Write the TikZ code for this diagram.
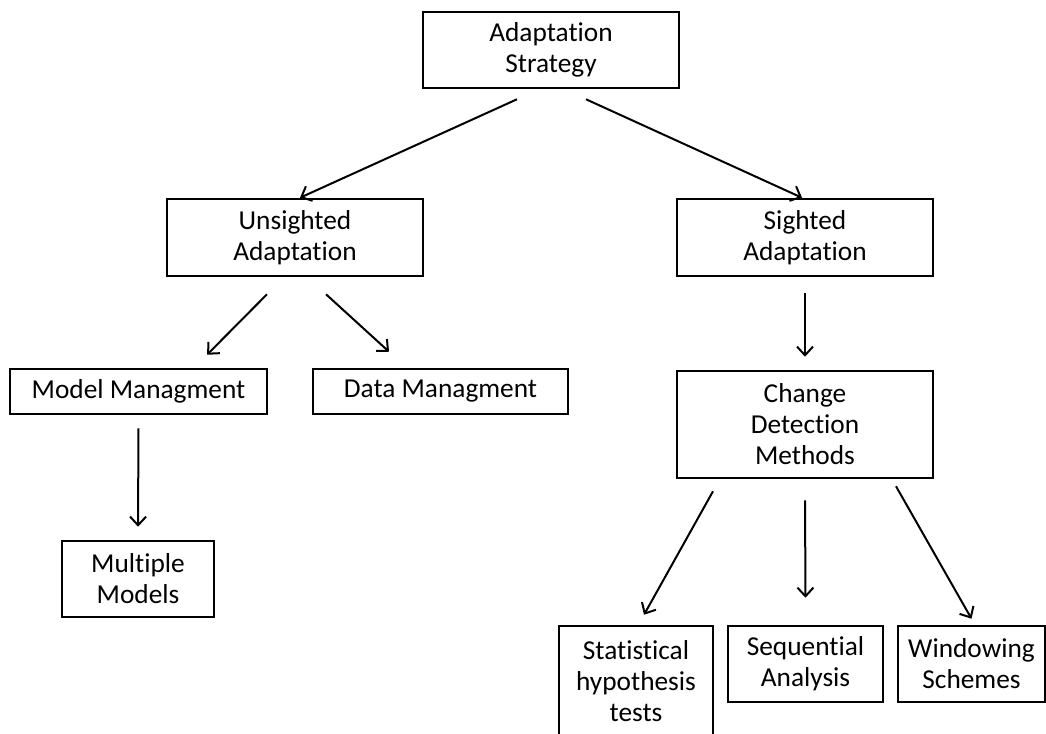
\documentclass[tikz,border=0pt]{standalone}
\usepackage{fontspec}
\setmainfont{Carlito}[Ligatures=NoCommon]
\usetikzlibrary{arrows.meta}

\tikzset{
  box/.style={draw, line width=1.9pt, align=center, inner sep=0pt,
    font=\fontsize{20.5}{23.3}\selectfont},
  >={Straight Barb[length=6.5pt, width=12pt]}
}

\begin{document}
\begin{tikzpicture}[x=0.75pt, y=-0.75pt]
    \useasboundingbox (0,0) rectangle (1046,733);

    \node[box, minimum width=192pt, minimum height=57pt] (strategy) at (551,50) {Adaptation\\Strategy};
    \node[box, minimum width=192pt, minimum height=57.75pt] (unsighted) at (295,237.5) {Unsighted\\Adaptation};
    \node[box, minimum width=192pt, minimum height=57.75pt] (sighted) at (805,237.5) {Sighted\\Adaptation};
    \node[box, minimum width=192.75pt, minimum height=33.75pt] (model) at (138.5,391.5) {Model Managment};
    \node[box, minimum width=191.25pt, minimum height=33.75pt] (data) at (440.5,391.5) {Data Managment};
    \node[box, minimum width=114pt, minimum height=57pt] (multiple) at (138,579) {Multiple\\Models};
    \node[box, minimum width=192pt, minimum height=80.25pt] (change) at (805,424.5) {Change\\Detection\\Methods};
    \node[box, minimum width=115.5pt, minimum height=82.5pt] (stat) at (636,681) {Statistical\\hypothesis\\tests};
    \node[box, minimum width=116.25pt, minimum height=57pt] (seq) at (805.5,664) {Sequential\\Analysis};
    \node[box, minimum width=110.25pt, minimum height=57pt] (window) at (971.5,664) {Windowing\\Schemes};

    \path[->, line width=1.5pt]
      ([xshift=-25.5pt, yshift=-7.5pt]strategy.south) edge ([xshift=3.75pt]unsighted.north)
      ([xshift=26.25pt, yshift=-7.5pt]strategy.south) edge ([xshift=-2.25pt]sighted.north)
      ([xshift=-21pt, yshift=-12.75pt]unsighted.south) edge ([xshift=51.4pt, yshift=9.75pt]model.north)
      ([xshift=23.25pt, yshift=-12.75pt]unsighted.south) edge ([xshift=-38.6pt, yshift=12pt]data.north)
      ([yshift=-12pt]sighted.south) edge ([yshift=9.75pt]change.north)
      ([yshift=-9.75pt]model.south) edge ([yshift=9.75pt]multiple.north)
      ([xshift=-69pt, yshift=-9pt]change.south) edge ([xshift=6pt, yshift=7.5pt]stat.north)
      ([yshift=-15.75pt]change.south) edge ([yshift=20.25pt]seq.north)
      ([xshift=68.25pt, yshift=-5.25pt]change.south) edge ([yshift=4.5pt]window.north);
\end{tikzpicture}
\end{document}
